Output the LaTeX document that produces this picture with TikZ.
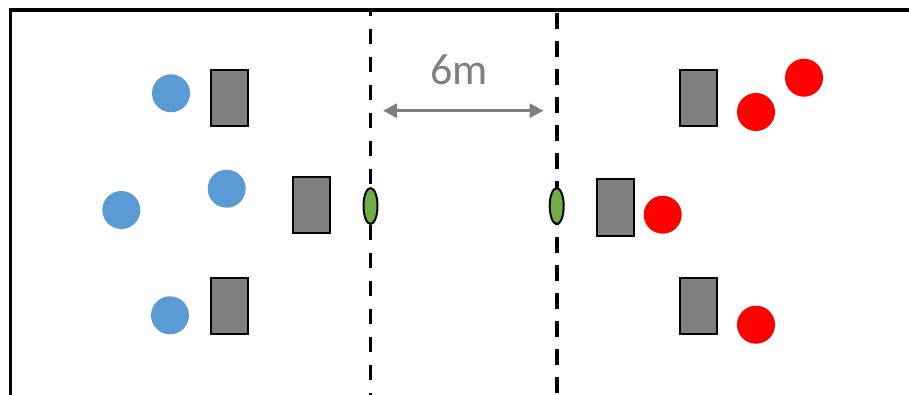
\documentclass[tikz,border=0pt]{standalone}
\usepackage{fontspec}
\setmainfont{Carlito}
\usetikzlibrary{shapes.geometric,arrows.meta}
\definecolor{pblue}{HTML}{5B9BD5}
\definecolor{pred}{HTML}{FF0000}
\definecolor{pgray}{HTML}{7F7F7F}
\definecolor{pgreen}{HTML}{70AD47}
\tikzset{
  player/.style={circle,inner sep=0pt,minimum size=38pt,draw=none},
  blueplayer/.style={player,fill=pblue},
  redplayer/.style={player,fill=pred},
  box/.style={rectangle,draw=black,line width=2pt,fill=pgray,inner sep=0pt,minimum width=37pt,minimum height=56pt},
  marker/.style={ellipse,draw=black,line width=2pt,fill=pgreen,inner sep=0pt,minimum width=14pt,minimum height=36pt},
  borderline/.style={line width=3.6pt,line cap=butt},
  courtline/.style={line width=3.6pt},
  measure/.style={draw=pgray,line width=3pt,{Triangle[length=14pt,width=14pt]}-{Triangle[length=14pt,width=14pt]}}
}
\begin{document}
\begin{tikzpicture}[x=1pt,y=-1pt]
\useasboundingbox (0,0) rectangle (909,395);
% border
\coordinate (bl) at (10.5,395);
\coordinate (tl) at (10.5,10);
\coordinate (tr) at (909,10);
\draw[borderline,line join=miter] (bl) -- (tl) -- (tr);
% dashed lines
\coordinate (l1t) at (370.5,10);
\coordinate (l1b) at (370.5,395);
\coordinate (l2t) at (556.7,10);
\coordinate (l2b) at (556.7,395);
\draw[courtline,dash pattern=on 15pt off 13pt,dash phase=9pt] (l1t) -- (l1b);
\draw[courtline,dash pattern=on 16pt off 12pt,dash phase=25pt] (l2t) -- (l2b);
% markers
\node[marker] (m1) at (370.5,206) {};
\node[marker] (m2) at (556.7,206) {};
% measure
\coordinate (a1) at (383,110.7);
\coordinate (a2) at (543.5,110.7);
\draw[measure] (a1) -- (a2);
\node[anchor=base,text=pgray,inner sep=0pt,font=\fontsize{44}{50}\selectfont] (lbl) at (459,85) {6m};
% left team
\node[box] (lb1) at (229.5,98) {};
\node[box] (lb2) at (311.5,205) {};
\node[box] (lb3) at (229.5,306) {};
\node[blueplayer] (b1) at (171,93.3) {};
\node[blueplayer] (b2) at (226.7,188.7) {};
\node[blueplayer] (b3) at (121.3,210) {};
\node[blueplayer] (b4) at (170,315.3) {};
% right team
\node[box] (rb1) at (698.5,98) {};
\node[box] (rb2) at (615,207.5) {};
\node[box] (rb3) at (698.5,306) {};
\node[redplayer] (r1) at (804,77.7) {};
\node[redplayer] (r2) at (756,112) {};
\node[redplayer] (r3) at (662.7,214.7) {};
\node[redplayer] (r4) at (756,324.7) {};
\end{tikzpicture}
\end{document}
